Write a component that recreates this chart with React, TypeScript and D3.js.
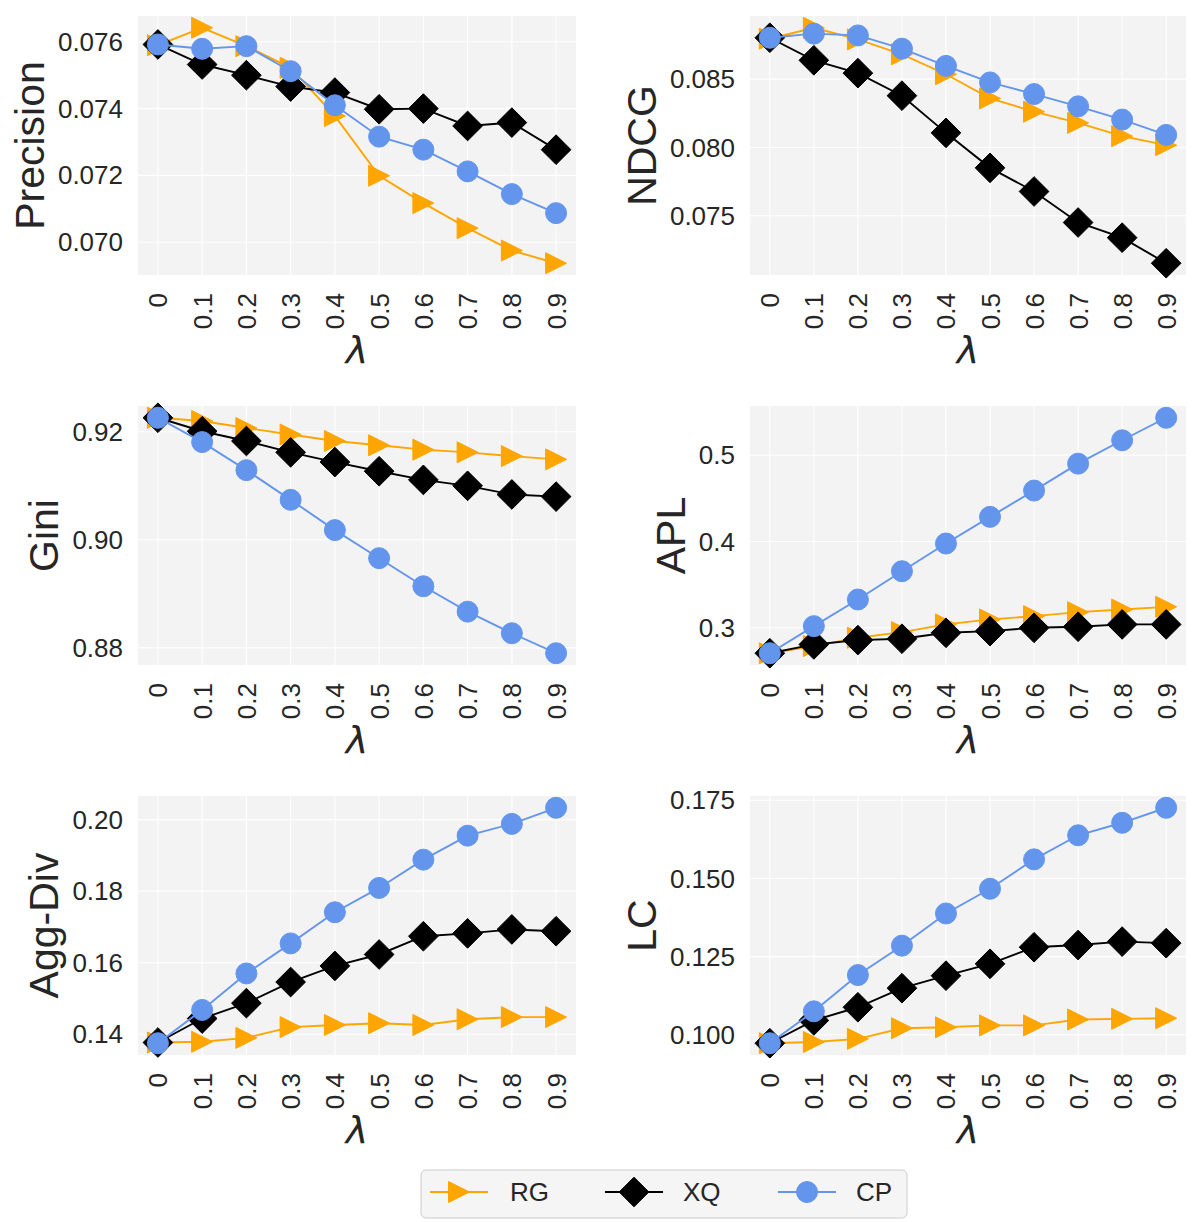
import React from 'react';
import * as d3 from 'd3';

// ---------- data ----------
const lambdas = ['0', '0.1', '0.2', '0.3', '0.4', '0.5', '0.6', '0.7', '0.8', '0.9'];
const seriesNames = ['RG', 'XQ', 'CP'];

const precisionRG = [0.0759, 0.07642, 0.07587, 0.07522, 0.07378, 0.07199, 0.07117, 0.07042, 0.06975, 0.06937];
const precisionXQ = [0.07592, 0.07532, 0.075, 0.07466, 0.07448, 0.07398, 0.074, 0.07348, 0.07358, 0.07277];
const precisionCP = [0.07592, 0.07579, 0.07587, 0.07512, 0.0741, 0.07316, 0.07277, 0.07212, 0.07144, 0.07087];

const ndcgRG = [0.08796, 0.08876, 0.08791, 0.08682, 0.08536, 0.08359, 0.08262, 0.0818, 0.08083, 0.08017];
const ndcgXQ = [0.08803, 0.08638, 0.08544, 0.08379, 0.08107, 0.07851, 0.07678, 0.07451, 0.0734, 0.07153];
const ndcgCP = [0.08803, 0.08833, 0.0882, 0.08723, 0.08597, 0.08476, 0.08391, 0.08301, 0.08204, 0.08092];

const giniRG = [0.9226, 0.922, 0.9207, 0.9195, 0.9183, 0.9175, 0.9167, 0.9162, 0.9155, 0.9149];
const giniXQ = [0.9226, 0.9201, 0.9183, 0.9162, 0.9144, 0.9127, 0.9111, 0.91, 0.9084, 0.908];
const giniCP = [0.9226, 0.9181, 0.9129, 0.9074, 0.9018, 0.8966, 0.8914, 0.8867, 0.8827, 0.879];

const aplRG = [0.2705, 0.2788, 0.2884, 0.295, 0.3039, 0.3097, 0.3135, 0.3181, 0.3212, 0.3243];
const aplXQ = [0.2705, 0.2807, 0.2857, 0.2873, 0.2942, 0.2961, 0.3, 0.3012, 0.3039, 0.3039];
const aplCP = [0.2705, 0.3019, 0.3328, 0.3656, 0.3977, 0.4286, 0.4591, 0.4903, 0.5174, 0.5435];

const aggRG = [0.1377, 0.1379, 0.139, 0.142, 0.1426, 0.1431, 0.1426, 0.1442, 0.1448, 0.1448];
const aggXQ = [0.1377, 0.1444, 0.1487, 0.1546, 0.1591, 0.1623, 0.1674, 0.1682, 0.1693, 0.1688];
const aggCP = [0.1375, 0.1468, 0.157, 0.1654, 0.1741, 0.1809, 0.1888, 0.1955, 0.1988, 0.2033];

const lcRG = [0.0973, 0.0977, 0.0987, 0.1021, 0.1024, 0.103, 0.103, 0.1049, 0.1051, 0.1053];
const lcXQ = [0.0973, 0.1046, 0.1088, 0.1149, 0.1189, 0.1227, 0.128, 0.1287, 0.1298, 0.1293];
const lcCP = [0.0973, 0.1075, 0.1191, 0.1285, 0.1388, 0.1467, 0.1561, 0.1638, 0.1678, 0.1726];

const precisionTicks = [0.07, 0.072, 0.074, 0.076];
const ndcgTicks = [0.075, 0.08, 0.085];
const giniTicks = [0.88, 0.9, 0.92];
const aplTicks = [0.3, 0.4, 0.5];
const aggTicks = [0.14, 0.16, 0.18, 0.2];
const lcTicks = [0.1, 0.125, 0.15, 0.175];

// ---------- style ----------
const COLORS = ['#FFA500', '#000000', '#6495ED'];
const FONT = '"Liberation Sans", Arial, Helvetica, sans-serif';
const TEXT = '#262626';
const BG = '#f3f3f3';
const TICK_FS = 26;
const LABEL_FS = 41;

const W = 1202;
const H = 1222;
const COLS = [
  [138, 576],
  [750, 1186],
];
const ROWS = [
  [16, 275],
  [406, 665],
  [796, 1055],
];

function markerPath(kind: number, s: number) {
  if (kind === 0) {
    const r = s / 2;
    return `M${r},0L${-r},${-r}L${-r},${r}Z`;
  }
  if (kind === 1) {
    const r = (s * Math.SQRT2) / 2;
    return `M0,${-r}L${r},0L0,${r}L${-r},0Z`;
  }
  const r = s / 2;
  return `M${-r},0A${r},${r} 0 1,0 ${r},0A${r},${r} 0 1,0 ${-r},0Z`;
}

function approxWidth(str: string, fs: number) {
  let w = 0;
  for (const c of str) w += c === '.' ? 0.278 : 0.556;
  return w * fs;
}

type PanelProps = {
  col: number;
  row: number;
  label: string;
  series: number[][];
  ticks: number[];
  fmt: string;
};

function Panel({ col, row, label, series, ticks, fmt }: PanelProps) {
  const [x0, x1] = COLS[col];
  const [y0, y1] = ROWS[row];
  const all = series.flat();
  const mn = d3.min(all) as number;
  const mx = d3.max(all) as number;
  const pad = (mx - mn) * 0.05;
  const x = d3.scalePoint<string>().domain(lambdas).range([x0, x1]).padding(0.45);
  const y = d3.scaleLinear().domain([mn - pad, mx + pad]).range([y1, y0]);
  const f = d3.format(fmt);
  const line = d3
    .line<number>()
    .x((_, i) => x(lambdas[i]) as number)
    .y((v) => y(v));
  const tickStrs = ticks.map((t) => f(t));
  const maxW = d3.max(tickStrs, (s) => approxWidth(s, TICK_FS)) as number;
  const tickRight = x0 - 15;
  const labelX = tickRight - maxW - 14;
  const cy = (y0 + y1) / 2;
  const ms = 21;
  return (
    <g>
      <rect x={x0} y={y0} width={x1 - x0} height={y1 - y0} fill={BG} />
      {lambdas.map((l) => (
        <line key={'gx' + l} x1={x(l)} x2={x(l)} y1={y0} y2={y1} stroke="#fff" strokeWidth={1.1} />
      ))}
      {ticks.map((t) => (
        <line key={'gy' + t} x1={x0} x2={x1} y1={y(t)} y2={y(t)} stroke="#fff" strokeWidth={1.1} />
      ))}
      {ticks.map((t, i) => (
        <text
          key={'ty' + t}
          x={tickRight}
          y={y(t)}
          dy="0.35em"
          textAnchor="end"
          fontFamily={FONT}
          fontSize={TICK_FS}
          fill={TEXT}
        >
          {tickStrs[i]}
        </text>
      ))}
      {lambdas.map((l) => (
        <text
          key={'tx' + l}
          transform={`translate(${(x(l) as number) + 9.5},${y1 + 18}) rotate(-90)`}
          textAnchor="end"
          fontFamily={FONT}
          fontSize={TICK_FS}
          fill={TEXT}
        >
          {l}
        </text>
      ))}
      {series.map((vals, si) => (
        <g key={'s' + si}>
          <path d={line(vals) as string} fill="none" stroke={COLORS[si]} strokeWidth={1.9} />
          {vals.map((v, i) => (
            <path
              key={i}
              transform={`translate(${x(lambdas[i])},${y(v)})`}
              d={markerPath(si, ms)}
              fill={COLORS[si]}
              stroke={COLORS[si]}
              strokeWidth={1}
            />
          ))}
        </g>
      ))}
      <text
        transform={`translate(${labelX},${cy}) rotate(-90)`}
        textAnchor="middle"
        fontFamily={FONT}
        fontSize={LABEL_FS}
        fill={TEXT}
      >
        {label}
      </text>
      <text
        x={(x0 + x1) / 2}
        y={y1 + 88}
        textAnchor="middle"
        fontFamily='"DejaVu Sans", sans-serif'
        fontStyle="italic"
        fontSize={38}
        fill={TEXT}
      >
        λ
      </text>
    </g>
  );
}

function Legend() {
  const bx = 421;
  const by = 1170;
  const bw = 486;
  const bh = 48;
  const my = 1192;
  const markerXs = [459, 634, 807];
  const textXs = [510, 683, 856];
  return (
    <g>
      <rect x={bx} y={by} width={bw} height={bh} rx={5} fill="#f5f5f5" stroke="#cccccc" strokeWidth={1} />
      {seriesNames.map((n, i) => (
        <g key={n}>
          <line x1={markerXs[i] - 29} x2={markerXs[i] + 29} y1={my} y2={my} stroke={COLORS[i]} strokeWidth={1.9} />
          <path
            transform={`translate(${markerXs[i]},${my})`}
            d={markerPath(i, 21)}
            fill={COLORS[i]}
            stroke={COLORS[i]}
            strokeWidth={1}
          />
          <text x={textXs[i]} y={1201} fontFamily={FONT} fontSize={TICK_FS} fill={TEXT}>
            {n}
          </text>
        </g>
      ))}
    </g>
  );
}

export default function App() {
  return (
    <div>
      <style>{`body{margin:0;background:#fff}`}</style>
      <svg width={W} height={H} style={{ display: 'block' }}>
        <rect width={W} height={H} fill="#fff" />
        <Panel col={0} row={0} label="Precision" series={[precisionRG, precisionXQ, precisionCP]} ticks={precisionTicks} fmt=".3f" />
        <Panel col={1} row={0} label="NDCG" series={[ndcgRG, ndcgXQ, ndcgCP]} ticks={ndcgTicks} fmt=".3f" />
        <Panel col={0} row={1} label="Gini" series={[giniRG, giniXQ, giniCP]} ticks={giniTicks} fmt=".2f" />
        <Panel col={1} row={1} label="APL" series={[aplRG, aplXQ, aplCP]} ticks={aplTicks} fmt=".1f" />
        <Panel col={0} row={2} label="Agg-Div" series={[aggRG, aggXQ, aggCP]} ticks={aggTicks} fmt=".2f" />
        <Panel col={1} row={2} label="LC" series={[lcRG, lcXQ, lcCP]} ticks={lcTicks} fmt=".3f" />
        <Legend />
      </svg>
    </div>
  );
}
